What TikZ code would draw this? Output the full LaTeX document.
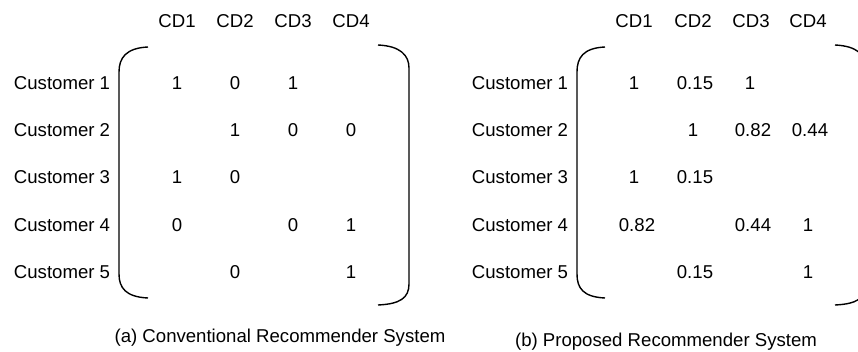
\documentclass[tikz,border=0pt]{standalone}
\usepackage{fontspec}
\setmainfont{Liberation Sans}

\tikzset{
  entry/.style={inner sep=0pt},
  brack/.style={line width=0.7pt}
}

\begin{document}
\begin{tikzpicture}[x=0.5pt,y=-0.5pt,font=\fontsize{9.3}{11}\selectfont]
\useasboundingbox (0,0) rectangle (858,352);
% (a) conventional matrix
\node [entry] (ah1) at (177,21) {CD1};
\node [entry] (ah2) at (235,21) {CD2};
\node [entry] (ah3) at (293,21) {CD3};
\node [entry] (ah4) at (351,21) {CD4};
\node [entry] (ac1) at (62,83) {Customer 1};
\node [entry] (ac2) at (62,130) {Customer 2};
\node [entry] (ac3) at (62,177) {Customer 3};
\node [entry] (ac4) at (62,225) {Customer 4};
\node [entry] (ac5) at (62,272) {Customer 5};
\node [entry] (a11) at (177,83) {1};
\node [entry] (a12) at (235,83) {0};
\node [entry] (a13) at (293,83) {1};
\node [entry] (a22) at (235,130) {1};
\node [entry] (a23) at (293,130) {0};
\node [entry] (a24) at (351,130) {0};
\node [entry] (a31) at (177,177) {1};
\node [entry] (a32) at (235,177) {0};
\node [entry] (a41) at (177,225) {0};
\node [entry] (a43) at (293,225) {0};
\node [entry] (a44) at (351,225) {1};
\node [entry] (a52) at (235,272) {0};
\node [entry] (a54) at (351,272) {1};
\draw [brack] (148,47) .. controls (126,48) and (119,58) .. (119,72) -- (119,274)
  .. controls (119,288) and (126,297) .. (148,298);
\draw [brack] (378,45) .. controls (400,46) and (409,55) .. (409,68) -- (409,284)
  .. controls (409,298) and (400,304) .. (378,305);
\node [entry] (acap) at (280,338) {(a) Conventional Recommender System};
% (b) proposed matrix
\node [entry] (bh1) at (634,21) {CD1};
\node [entry] (bh2) at (693,21) {CD2};
\node [entry] (bh3) at (751,21) {CD3};
\node [entry] (bh4) at (808,21) {CD4};
\node [entry] (bc1) at (520,83) {Customer 1};
\node [entry] (bc2) at (520,130) {Customer 2};
\node [entry] (bc3) at (520,177) {Customer 3};
\node [entry] (bc4) at (520,225) {Customer 4};
\node [entry] (bc5) at (520,272) {Customer 5};
\node [entry] (b11) at (634,83) {1};
\node [entry] (b12) at (695,83) {0.15};
\node [entry] (b13) at (750,83) {1};
\node [entry] (b22) at (693,130) {1};
\node [entry] (b23) at (753,130) {0.82};
\node [entry] (b24) at (810,130) {0.44};
\node [entry] (b31) at (634,177) {1};
\node [entry] (b32) at (695,177) {0.15};
\node [entry] (b41) at (637,225) {0.82};
\node [entry] (b43) at (753,225) {0.44};
\node [entry] (b44) at (808,225) {1};
\node [entry] (b52) at (695,272) {0.15};
\node [entry] (b54) at (808,272) {1};
\draw [brack] (605,47) .. controls (583,48) and (577,58) .. (577,72) -- (577,274)
  .. controls (577,288) and (583,297) .. (605,298);
\draw [brack] (835,45) .. controls (857,46) and (866,55) .. (866,68) -- (866,284)
  .. controls (866,298) and (857,304) .. (835,305);
\node [entry] (bcap) at (666,342) {(b) Proposed Recommender System};
\end{tikzpicture}
\end{document}
